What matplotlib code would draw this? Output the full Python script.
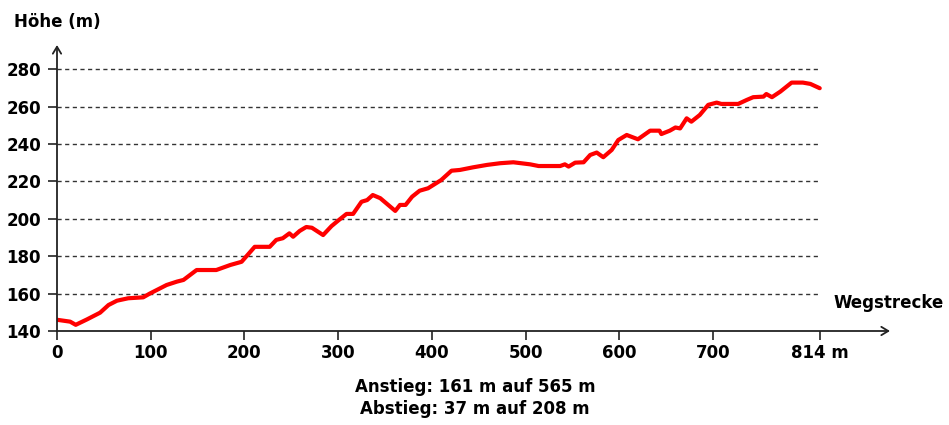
import matplotlib.pyplot as plt

# Hoehenprofil: Wegstrecke (m) und Hoehe (m)
dist = [0, 14, 20, 32, 46, 55, 64, 76, 92, 99, 117, 128, 135, 149, 170, 185, 197,
        211, 227, 234, 241, 248, 252, 259, 266, 272, 284, 293, 300, 309, 316, 325,
        331, 337, 345, 361, 366, 372, 379, 387, 396, 410, 421, 430, 444, 459, 473,
        487, 505, 514, 537, 542, 546, 553, 562, 569, 576, 583, 592, 599, 608, 620,
        633, 643, 645, 654, 660, 665, 672, 677, 686, 695, 704, 709, 727, 736, 743,
        754, 757, 763, 772, 784, 796, 804, 814]
elev = [146, 145, 143.3, 146.2, 149.8, 153.9, 156.2, 157.5, 158, 160, 164.6, 166.4,
        167.3, 172.6, 172.6, 175.3, 177, 185, 185, 188.7, 189.6, 192.2, 190.4, 193.5,
        195.6, 195.2, 191.3, 196.1, 199, 202.6, 202.6, 209.1, 210, 212.7, 211, 204.2,
        207.4, 207.4, 211.8, 215, 216.3, 220.7, 225.7, 226.1, 227.5, 228.8, 229.7,
        230.2, 229.1, 228.2, 228.2, 229.1, 227.9, 230, 230.2, 234.1, 235.4, 232.9,
        236.8, 242.1, 244.8, 242.5, 247.1, 247.1, 245.3, 247.1, 248.8, 248.3, 253.7,
        251.9, 255.5, 260.9, 262.1, 261.4, 261.4, 263.5, 265, 265.3, 266.7, 265,
        268, 272.8, 272.8, 272.1, 269.8]

x_ticks = [0, 100, 200, 300, 400, 500, 600, 700, 814]
x_labels = ['0', '100', '200', '300', '400', '500', '600', '700', '814 m']
y_ticks = [140, 160, 180, 200, 220, 240, 260, 280]
total = 814
summary = ['Anstieg: 161 m auf 565 m', 'Abstieg: 37 m auf 208 m']

plt.rcParams['font.family'] = 'DejaVu Sans'
plt.rcParams['font.weight'] = 'bold'

fig = plt.figure(figsize=(9.49, 4.25), dpi=100)
ax = fig.add_axes([57 / 949, 94 / 425, 833 / 949, 286 / 425])
ax.set_xlim(0, 889)
ax.set_ylim(140, 292.9)

# gestrichelte Hilfslinien nur bis zum Streckenende
ax.hlines(y_ticks[1:], 0, total, colors='#333333', linewidth=1.0,
          linestyles=(0, (3, 2.5)), zorder=1)

ax.plot(dist, elev, color='#ff0000', linewidth=3.0, solid_capstyle='round',
        solid_joinstyle='round', zorder=3)

for s in ax.spines.values():
    s.set_visible(False)

# Achsen mit Pfeilspitzen
arrow = dict(arrowstyle='->,head_length=0.5,head_width=0.3', color='#222222',
             lw=1.3, shrinkA=0, shrinkB=0)
ax.annotate('', xy=(1, 0), xytext=(0, 0), xycoords='axes fraction', arrowprops=arrow)
ax.annotate('', xy=(0, 1), xytext=(0, 0), xycoords='axes fraction', arrowprops=arrow)

ax.set_xticks(x_ticks)
ax.set_xticklabels(x_labels)
ax.set_yticks(y_ticks)
ax.tick_params(axis='both', direction='out', length=6.5, width=1.2, color='#222222',
               labelsize=12, pad=3)
ax.tick_params(axis='y', pad=5)

fig.text(14 / 949, 1 - 22 / 425, 'Höhe (m)', fontsize=12, fontweight='bold',
         ha='left', va='center')
fig.text(833 / 949, 1 - 303 / 425, 'Wegstrecke', fontsize=12, fontweight='bold',
         ha='left', va='center')
fig.text(475 / 949, 1 - 387 / 425, summary[0], fontsize=12, fontweight='bold',
         ha='center', va='center')
fig.text(475 / 949, 1 - 409 / 425, summary[1], fontsize=12, fontweight='bold',
         ha='center', va='center')

fig.savefig('out.png', dpi=100)
